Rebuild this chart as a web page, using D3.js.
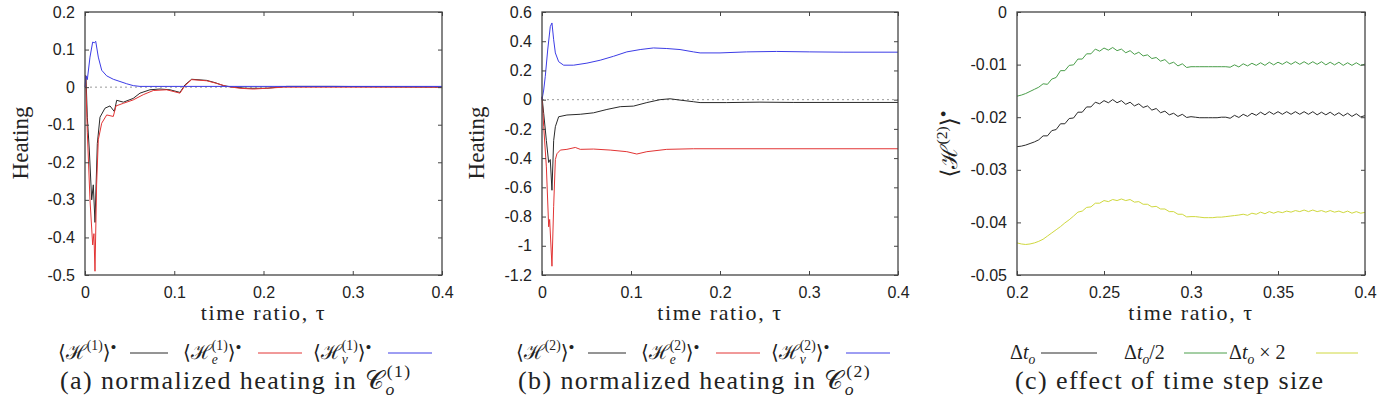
<!DOCTYPE html>
<html lang="en">
<head>
<meta charset="UTF-8">
<script src="https://d3js.org/d3.v7.min.js"></script>
<title>Normalized heating</title>
<style>
  body { margin: 0; background: #fff; }
</style>
</head>
<body>
<script>
// ---- data ----
const xTicksAB = [0, 0.1, 0.2, 0.3, 0.4];
const yTicksA = [-0.5, -0.4, -0.3, -0.2, -0.1, 0, 0.1, 0.2];
const yTicksB = [-1.2, -1, -0.8, -0.6, -0.4, -0.2, 0, 0.2, 0.4, 0.6];
const xTicksC = [0.2, 0.25, 0.3, 0.35, 0.4];
const yTicksC = [-0.05, -0.04, -0.03, -0.02, -0.01, 0];

// panel (a): [tau, value]
const a_total = [[0,0.03],[0.0011,0.03],[0.0026,-0.08],[0.0049,-0.17],[0.0075,-0.30],[0.0093,-0.26],[0.0112,-0.36],[0.0138,-0.15],[0.0168,-0.08],[0.0224,-0.056],[0.028,-0.05],[0.0329,-0.065],[0.0355,-0.035],[0.043,-0.04],[0.054,-0.03],[0.0616,-0.016],[0.0728,-0.007],[0.084,-0.005],[0.0952,-0.007],[0.1064,-0.014],[0.112,0.006],[0.1195,0.021],[0.1363,0.018],[0.1457,0.012],[0.155,0.004],[0.166,0],[0.181,-0.003],[0.2035,-0.003],[0.226,0.002],[0.278,0.002],[0.4,0]];
const a_e = [[0,0.03],[0.0007,0.03],[0.0026,-0.12],[0.0056,-0.30],[0.0086,-0.42],[0.01,-0.39],[0.0112,-0.49],[0.013,-0.26],[0.0149,-0.14],[0.0187,-0.096],[0.0243,-0.074],[0.0317,-0.078],[0.0347,-0.05],[0.043,-0.043],[0.054,-0.034],[0.0653,-0.02],[0.0765,-0.009],[0.0915,-0.007],[0.1064,-0.016],[0.112,0.004],[0.1195,0.02],[0.1363,0.017],[0.1475,0.01],[0.1587,0.002],[0.1737,-0.003],[0.1886,-0.005],[0.2035,-0.003],[0.2222,0],[0.4,0]];
const a_v = [[0,0],[0.0011,0.03],[0.0026,0.02],[0.0056,0.08],[0.0086,0.12],[0.0105,0.118],[0.012,0.122],[0.0149,0.08],[0.0187,0.045],[0.0243,0.03],[0.0317,0.021],[0.0392,0.015],[0.0467,0.009],[0.0541,0.004],[0.0616,0.002],[0.4,0.002]];

// panel (b)
const b_total = [[0,0.02],[0.0019,-0.094],[0.0049,-0.28],[0.0075,-0.43],[0.0093,-0.41],[0.0112,-0.62],[0.0131,-0.28],[0.015,-0.185],[0.0187,-0.117],[0.028,-0.105],[0.043,-0.10],[0.0579,-0.09],[0.0729,-0.067],[0.0879,-0.048],[0.1028,-0.044],[0.1178,-0.02],[0.1327,0],[0.1439,0.006],[0.1551,-0.003],[0.1701,-0.014],[0.1776,-0.02],[0.2075,-0.02],[0.2449,-0.017],[0.2822,-0.019],[0.4,-0.019]];
const b_e = [[0,0.02],[0.0019,-0.185],[0.0049,-0.46],[0.0075,-0.87],[0.0086,-0.82],[0.0112,-1.14],[0.0131,-0.73],[0.015,-0.41],[0.0168,-0.37],[0.0206,-0.345],[0.028,-0.34],[0.0374,-0.327],[0.043,-0.34],[0.0579,-0.338],[0.0766,-0.345],[0.0953,-0.356],[0.1065,-0.372],[0.1178,-0.356],[0.1402,-0.34],[0.1701,-0.336],[0.4,-0.336]];
const b_v = [[0,0],[0.0019,0.066],[0.0037,0.16],[0.0064,0.34],[0.0093,0.5],[0.0112,0.525],[0.0131,0.41],[0.015,0.32],[0.0187,0.26],[0.0243,0.236],[0.0355,0.236],[0.0505,0.25],[0.0654,0.27],[0.0804,0.297],[0.0953,0.327],[0.1103,0.343],[0.1252,0.354],[0.1402,0.35],[0.1551,0.343],[0.1701,0.327],[0.1776,0.32],[0.2,0.32],[0.2299,0.327],[0.2636,0.33],[0.3009,0.327],[0.3383,0.325],[0.4,0.325]];

// panel (c): samples every 0.0025 from 0.2 to 0.4
const tauC = d3.range(81).map(i => +(0.2 + i * 0.0025).toFixed(4));
const c_dt = [-0.0256,-0.0255,-0.0253,-0.0250,-0.0247,-0.0243,-0.02355,-0.02355,-0.02255,-0.02235,
  -0.02125,-0.02125,-0.02025,-0.02015,-0.01905,-0.01905,-0.01805,-0.01805,-0.01715,-0.01745,
  -0.01685,-0.01725,-0.01665,-0.01725,-0.01685,-0.01755,-0.01715,-0.01785,-0.01745,-0.01815,
  -0.01785,-0.01865,-0.01835,-0.01915,-0.01885,-0.01955,-0.01925,-0.01985,-0.01945,-0.02005,
  -0.0199,-0.0200,-0.0201,-0.0201,-0.0201,-0.0201,-0.0201,-0.0200,-0.0200,-0.0202,
  -0.01965,-0.02005,-0.01945,-0.01985,-0.01925,-0.01965,-0.01905,-0.01955,-0.01895,-0.01945,
  -0.01895,-0.01945,-0.01895,-0.01945,-0.01895,-0.01945,-0.01895,-0.01945,-0.01895,-0.01955,
  -0.01905,-0.01955,-0.01905,-0.01965,-0.01915,-0.01975,-0.01925,-0.01985,-0.01935,-0.01995,
  -0.0197];
const c_half = [-0.0160,-0.0158,-0.0155,-0.0151,-0.0147,-0.0143,-0.01365,-0.01375,-0.01275,-0.01245,
  -0.01115,-0.01115,-0.01015,-0.01005,-0.00895,-0.00895,-0.00795,-0.00795,-0.00705,-0.00745,
  -0.00685,-0.00725,-0.00675,-0.00735,-0.00705,-0.00775,-0.00735,-0.00805,-0.00765,-0.00835,
  -0.00815,-0.00885,-0.00865,-0.00935,-0.00905,-0.00985,-0.00955,-0.01025,-0.00985,-0.01055,
  -0.0104,-0.0104,-0.0104,-0.0104,-0.0104,-0.0104,-0.0104,-0.0104,-0.0104,-0.0105,
  -0.01005,-0.01045,-0.00985,-0.01025,-0.00975,-0.01015,-0.00965,-0.01015,-0.00955,-0.01005,
  -0.00955,-0.00995,-0.00945,-0.00995,-0.00945,-0.00995,-0.00945,-0.00995,-0.00945,-0.00995,
  -0.00945,-0.01005,-0.00955,-0.01005,-0.00955,-0.01015,-0.00965,-0.01015,-0.00965,-0.01015,
  -0.0099];
const c_double = [-0.0439,-0.0441,-0.0442,-0.0441,-0.0439,-0.0436,-0.0432,-0.0426,-0.0420,-0.0414,
  -0.0408,-0.0401,-0.0395,-0.0388,-0.03805,-0.03785,-0.03715,-0.03705,-0.03635,-0.03635,
  -0.03585,-0.03605,-0.03565,-0.03585,-0.03555,-0.03585,-0.03565,-0.03615,-0.03605,-0.03655,
  -0.03655,-0.03705,-0.03695,-0.03745,-0.03745,-0.03795,-0.03795,-0.03845,-0.03845,-0.03895,
  -0.0389,-0.0389,-0.0390,-0.0391,-0.0391,-0.0391,-0.0390,-0.0390,-0.0389,-0.0388,
  -0.0387,-0.0386,-0.03845,-0.03865,-0.03825,-0.03845,-0.03805,-0.03835,-0.03795,-0.03825,
  -0.03795,-0.03815,-0.03785,-0.03805,-0.03775,-0.03795,-0.03765,-0.03795,-0.03765,-0.03795,
  -0.03775,-0.03805,-0.03775,-0.03805,-0.03785,-0.03815,-0.03785,-0.03825,-0.03795,-0.03825,
  -0.0381];

const BLACK = "#2a2a2a", RED = "#e23434", BLUE = "#3c3ce6", GREEN = "#4a9e4a", YELLOW = "#cfd83e";
const SERIF = "'Liberation Serif', 'DejaVu Serif', serif";
const SANS = "'Liberation Sans', Arial, sans-serif";

const svg = d3.select("body").append("svg")
  .attr("width", 1397).attr("height", 401);

const plotTop = 12, plotBottom = 275;
const fmt = d => String(d);

// math-ish text: parts are [string, kind, italic]
// kind: n | sup | sub | supb (sup stacked over the previous sub) | dot (raised, near full size)
function mathText(g, x, y, size, parts) {
  const t = g.append("text").attr("x", x).attr("y", y)
    .attr("font-family", SERIF).style("font-size", size + "px").style("font-weight", "normal").attr("fill", "#222");
  let level = 0, prevW = 0;
  parts.forEach(([s, kind, it]) => {
    const target = kind === "sup" || kind === "supb" ? -0.45 * size
      : kind === "dot" ? -0.3 * size
      : kind === "sub" ? 0.24 * size : 0;
    const ts = t.append("tspan").attr("dy", target - level).text(s);
    if (kind === "dot") ts.style("font-size", (size * 0.85) + "px");
    else if (kind !== "n") ts.style("font-size", (size * 0.68) + "px");
    if (it) ts.style("font-style", "italic");
    if (kind === "supb") ts.attr("dx", -prevW);
    level = target;
    prevW = ts.node().getComputedTextLength();
  });
  return t;
}

function panel(cfg) {
  const x = d3.scaleLinear().domain(cfg.xDom).range([cfg.x0, cfg.x1]);
  const y = d3.scaleLinear().domain(cfg.yDom).range([plotBottom, plotTop]);
  const g = svg.append("g");

  // zero reference
  if (cfg.zero) {
    g.append("line")
      .attr("x1", cfg.x0).attr("x2", cfg.x1).attr("y1", y(0)).attr("y2", y(0))
      .attr("stroke", "#999").attr("stroke-width", 1).attr("stroke-dasharray", "2,3");
  }

  const line = d3.line().x(d => x(d[0])).y(d => y(d[1]));
  cfg.series.forEach(s => {
    g.append("path").datum(s.data)
      .attr("d", line)
      .attr("fill", "none")
      .attr("stroke", s.color)
      .attr("stroke-width", 1)
      .attr("stroke-linejoin", "round");
  });

  // axes, ticks pointing inward on all four sides
  const styleAxis = sel => {
    sel.select(".domain").remove();
    sel.selectAll(".tick line").attr("stroke", "#444");
    sel.selectAll(".tick text").style("font-family", SANS).style("font-size", "16px").attr("fill", "#222");
  };
  g.append("g").attr("transform", `translate(${cfg.x0},0)`)
    .call(d3.axisLeft(y).tickValues(cfg.yTicks).tickFormat(fmt).tickSize(-4).tickPadding(10))
    .call(styleAxis);
  g.append("g").attr("transform", `translate(${cfg.x1},0)`)
    .call(d3.axisRight(y).tickValues(cfg.yTicks).tickFormat("").tickSize(-4))
    .call(styleAxis);
  g.append("g").attr("transform", `translate(0,${plotBottom})`)
    .call(d3.axisBottom(x).tickValues(cfg.xTicks).tickFormat(fmt).tickSize(-4).tickPadding(12))
    .call(styleAxis);
  g.append("g").attr("transform", `translate(0,${plotTop})`)
    .call(d3.axisTop(x).tickValues(cfg.xTicks).tickFormat("").tickSize(-4))
    .call(styleAxis);

  g.append("rect")
    .attr("x", cfg.x0).attr("y", plotTop).attr("width", cfg.x1 - cfg.x0).attr("height", plotBottom - plotTop)
    .attr("fill", "none").attr("stroke", "#444").attr("stroke-width", 1.3);

  // x label
  g.append("text")
    .attr("x", (cfg.x0 + cfg.x1) / 2).attr("y", 320)
    .attr("text-anchor", "middle")
    .attr("font-family", SERIF).style("font-size", "22px").style("font-weight", "normal")
    .style("letter-spacing", "1.6px")
    .attr("fill", "#222")
    .text("time ratio, τ");

  // y label
  if (cfg.yLabel) {
    g.append("text")
      .attr("transform", `translate(${cfg.yLabelX},143) rotate(-90)`)
      .attr("text-anchor", "middle")
      .attr("font-family", SERIF).style("font-size", "23px").style("font-weight", "normal")
      .attr("fill", "#222")
      .text(cfg.yLabel);
  } else if (cfg.yLabelParts) {
    const lg = g.append("g").attr("transform", `translate(${cfg.yLabelX},144) rotate(-90)`);
    const t = mathText(lg, 0, 0, 23, cfg.yLabelParts);
    const w = t.node().getBBox().width;
    t.attr("x", -w / 2);
  }

  // legend row
  cfg.legend.forEach(e => {
    mathText(g, e.x, 359, 20, e.parts);
    g.append("line")
      .attr("x1", e.l1).attr("x2", e.l2).attr("y1", 353).attr("y2", 353)
      .attr("stroke", e.color).attr("stroke-width", 1);
  });

  // caption
  mathText(g, cfg.capX, 389, 26, cfg.caption).style("letter-spacing", "1.4px");
}

const H = (n, sub) => sub
  ? [["⟨", "n"], ["ℋ", "n"], [sub, "sub", true], [`(${n})`, "supb"], ["⟩", "n"], ["•", "dot"]]
  : [["⟨", "n"], ["ℋ", "n"], [`(${n})`, "sup"], ["⟩", "n"], ["•", "dot"]];

panel({
  x0: 85, x1: 442, xDom: [0, 0.4], yDom: [-0.5, 0.2], xTicks: xTicksAB, yTicks: yTicksA, zero: true,
  series: [{ data: a_total, color: BLACK }, { data: a_e, color: RED }, { data: a_v, color: BLUE }],
  yLabel: "Heating", yLabelX: 28,
  legend: [
    { parts: H(1), x: 58, l1: 130, l2: 168, color: BLACK },
    { parts: H(1, "e"), x: 183, l1: 258, l2: 302, color: RED },
    { parts: H(1, "v"), x: 313, l1: 388, l2: 432, color: BLUE }
  ],
  capX: 60,
  caption: [["(a) normalized heating in ", "n"], ["𝒞", "n"], ["o", "sub", true], ["(1)", "supb"]]
});

panel({
  x0: 542, x1: 898, xDom: [0, 0.4], yDom: [-1.2, 0.6], xTicks: xTicksAB, yTicks: yTicksB, zero: true,
  series: [{ data: b_total, color: BLACK }, { data: b_e, color: RED }, { data: b_v, color: BLUE }],
  yLabel: "Heating", yLabelX: 484,
  legend: [
    { parts: H(2), x: 516, l1: 588, l2: 626, color: BLACK },
    { parts: H(2, "e"), x: 641, l1: 716, l2: 760, color: RED },
    { parts: H(2, "v"), x: 771, l1: 846, l2: 890, color: BLUE }
  ],
  capX: 518,
  caption: [["(b) normalized heating in ", "n"], ["𝒞", "n"], ["o", "sub", true], ["(2)", "supb"]]
});

panel({
  x0: 1017, x1: 1365, xDom: [0.2, 0.4], yDom: [-0.05, 0], xTicks: xTicksC, yTicks: yTicksC, zero: false,
  series: [
    { data: tauC.map((t, i) => [t, c_dt[i]]), color: BLACK },
    { data: tauC.map((t, i) => [t, c_half[i]]), color: GREEN },
    { data: tauC.map((t, i) => [t, c_double[i]]), color: YELLOW }
  ],
  yLabelParts: H(2), yLabelX: 957,
  legend: [
    { parts: [["Δ", "n"], ["t", "n", true], ["o", "sub", true]], x: 1010, l1: 1041, l2: 1097, color: BLACK },
    { parts: [["Δ", "n"], ["t", "n", true], ["o", "sub", true], ["/2", "n"]], x: 1124, l1: 1184, l2: 1227, color: GREEN },
    { parts: [["Δ", "n"], ["t", "n", true], ["o", "sub", true], [" × 2", "n"]], x: 1229, l1: 1316, l2: 1358, color: YELLOW }
  ],
  capX: 1015,
  caption: [["(c) effect of time step size", "n"]]
});
</script>
</body>
</html>
